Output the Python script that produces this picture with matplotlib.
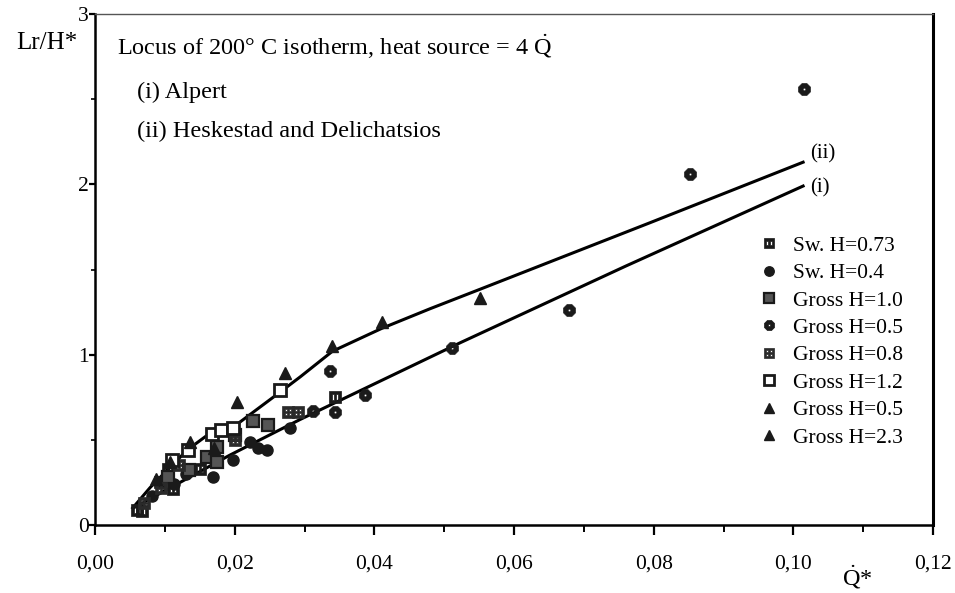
import numpy as np
import matplotlib
matplotlib.use("Agg")
import matplotlib.pyplot as plt
from matplotlib.path import Path
from matplotlib.ticker import MultipleLocator, FuncFormatter

plt.rcParams["font.family"] = ["Liberation Serif", "DejaVu Serif"]
plt.rcParams["mathtext.fontset"] = "custom"
plt.rcParams["mathtext.rm"] = "Liberation Serif"
plt.rcParams["mathtext.it"] = "Liberation Serif:italic"

# ---- correlation curves -------------------------------------------------
alpert_q = [0.0055, 0.0193, 0.0294, 0.0523, 0.0760, 0.1014]
alpert_l = [0.10, 0.41, 0.62, 1.07, 1.52, 1.99]

hd_q = [0.0054, 0.0079, 0.0103, 0.0132, 0.0165, 0.0198, 0.0265, 0.0294,
        0.0340, 0.0411, 0.0480, 0.0552, 0.0795, 0.1014]
hd_l = [0.10, 0.22, 0.32, 0.44, 0.54, 0.575, 0.78, 0.87,
        1.02, 1.155, 1.27, 1.385, 1.775, 2.13]

# ---- measurements -------------------------------------------------------
sw073_q = [0.0060, 0.0068, 0.0093, 0.0105, 0.0112, 0.0150, 0.0344]
sw073_l = [0.09, 0.08, 0.25, 0.33, 0.21, 0.33, 0.75]

sw04_q = [0.0082, 0.0113, 0.0130, 0.0169, 0.0198, 0.0222, 0.0234, 0.0246, 0.0279]
sw04_l = [0.17, 0.24, 0.30, 0.28, 0.38, 0.49, 0.45, 0.44, 0.57]

g10_q = [0.0105, 0.0135, 0.0160, 0.0175, 0.0175, 0.0200, 0.0226, 0.0248]
g10_l = [0.28, 0.32, 0.40, 0.37, 0.46, 0.53, 0.61, 0.59]

g05d_q = [0.0312, 0.0337, 0.0344, 0.0387, 0.0511, 0.0679, 0.0852, 0.1015]
g05d_l = [0.672, 0.905, 0.665, 0.765, 1.04, 1.265, 2.06, 2.56]

g08_q = [0.0070, 0.0095, 0.0120, 0.0200, 0.0276, 0.0290]
g08_l = [0.13, 0.22, 0.35, 0.50, 0.665, 0.665]

g12_q = [0.0110, 0.0133, 0.0168, 0.0180, 0.0198, 0.0265]
g12_l = [0.38, 0.44, 0.535, 0.56, 0.57, 0.79]

g05t_q = [0.0088, 0.0107, 0.0136, 0.0170]
g05t_l = [0.27, 0.37, 0.49, 0.45]

g23_q = [0.0203, 0.0272, 0.0340, 0.0411, 0.0552]
g23_l = [0.72, 0.89, 1.05, 1.19, 1.335]

labels = ["Sw. H=0.73", "Sw. H=0.4", "Gross H=1.0", "Gross H=0.5",
          "Gross H=0.8", "Gross H=1.2", "Gross H=0.5", "Gross H=2.3"]


# ---- marker shapes ------------------------------------------------------
def rect(x0, y0, x1, y1, cw=False):
    pts = [(x0, y0), (x1, y0), (x1, y1), (x0, y1)]
    if cw:
        pts = pts[::-1]
    return pts + [pts[0]]


def poly(n, r, cw=False):
    a = np.linspace(0, 2 * np.pi, n, endpoint=False) + np.pi / n
    pts = [(r * np.cos(t), r * np.sin(t)) for t in a]
    if cw:
        pts = pts[::-1]
    return pts + [pts[0]]


def compound(rings):
    verts, codes = [], []
    for ring in rings:
        verts += ring
        codes += [Path.MOVETO] + [Path.LINETO] * (len(ring) - 2) + [Path.CLOSEPOLY]
    return Path(verts, codes)


m_sw073 = compound([rect(-1, -1, 1, 1),
                    rect(-0.5, -0.45, -0.15, 0.45, cw=True),
                    rect(0.15, -0.45, 0.5, 0.45, cw=True)])
m_g05d = compound([poly(8, 1.0), poly(8, 0.22, cw=True)])
m_g08 = compound([rect(-1, -1, 1, 1),
                  rect(-0.55, -0.55, -0.12, -0.12, cw=True),
                  rect(0.12, -0.55, 0.55, -0.12, cw=True),
                  rect(-0.55, 0.12, -0.12, 0.55, cw=True),
                  rect(0.12, 0.12, 0.55, 0.55, cw=True)])

fig = plt.figure(figsize=(9.55, 5.93), dpi=100)
ax = fig.add_axes([95 / 955, 68 / 593, 838 / 955, 511 / 593])

ax.plot(alpert_q, alpert_l, color="black", lw=2.2, zorder=2)
ax.plot(hd_q, hd_l, color="black", lw=2.2, zorder=2)

series = [
    (sw073_q, sw073_l, dict(marker=m_sw073, ms=8.5, mfc="#1a1a1a", mec="#1a1a1a", mew=0.5)),
    (sw04_q, sw04_l, dict(marker="o", ms=8, mfc="#1a1a1a", mec="#1a1a1a")),
    (g10_q, g10_l, dict(marker="s", ms=8.5, mfc="#555555", mec="#1a1a1a", mew=1.6)),
    (g05d_q, g05d_l, dict(marker=m_g05d, ms=8.5, mfc="#1a1a1a", mec="#1a1a1a", mew=0.5)),
    (g08_q, g08_l, dict(marker=m_g08, ms=8.5, mfc="#2a2a2a", mec="#2a2a2a", mew=0.5)),
    (g12_q, g12_l, dict(marker="s", ms=8.5, mfc="white", mec="#1a1a1a", mew=2.0)),
    (g05t_q, g05t_l, dict(marker="^", ms=9, mfc="#1a1a1a", mec="#1a1a1a")),
    (g23_q, g23_l, dict(marker="^", ms=9, mfc="#1a1a1a", mec="#1a1a1a")),
]
handles = []
for (q, l, st), lab in zip(series, labels):
    h, = ax.plot(q, l, ls="none", label=lab, zorder=3, **st)
    handles.append(h)

ax.set_xlim(0, 0.12)
ax.set_ylim(0, 3)

ax.xaxis.set_major_locator(MultipleLocator(0.02))
ax.xaxis.set_minor_locator(MultipleLocator(0.01))
ax.yaxis.set_major_locator(MultipleLocator(1))
ax.yaxis.set_minor_locator(MultipleLocator(0.5))
ax.xaxis.set_major_formatter(FuncFormatter(lambda v, p: f"{v:.2f}".replace(".", ",")))
ax.yaxis.set_major_formatter(FuncFormatter(lambda v, p: f"{v:.0f}"))

ax.tick_params(axis="x", which="major", direction="out", length=7, width=1.6,
               pad=14, labelsize=15.5)
ax.tick_params(axis="x", which="minor", direction="out", length=5, width=1.4)
ax.tick_params(axis="y", which="major", direction="out", length=4, width=1.6,
               pad=0.5, labelsize=15.5)
ax.tick_params(axis="y", which="minor", direction="out", length=3, width=1.2)

for side, lw, col in [("left", 1.8, "black"), ("bottom", 1.8, "black"),
                      ("right", 2.2, "black"), ("top", 1.0, "#555555")]:
    ax.spines[side].set_linewidth(lw)
    ax.spines[side].set_color(col)

ax.text(0.026, 0.935, r"Locus of 200° C isotherm, heat source = 4 $\dot{\mathrm{Q}}$",
        transform=ax.transAxes, fontsize=17.5, va="center", ha="left")
ax.text(0.050, 0.847, "(i) Alpert", transform=ax.transAxes, fontsize=17.5,
        va="center", ha="left")
ax.text(0.050, 0.771, "(ii) Heskestad and Delichatsios", transform=ax.transAxes,
        fontsize=17.5, va="center", ha="left")

ax.text(hd_q[-1] + 0.0010, 2.18, "(ii)", fontsize=15, va="center", ha="left")
ax.text(alpert_q[-1] + 0.0010, 1.98, "(i)", fontsize=15, va="center", ha="left")

fig.text(47 / 955, 1 - 43 / 593, "Lr/H*", fontsize=18, ha="center", va="center")
fig.text(857 / 955, 1 - 577 / 593, r"$\dot{\mathrm{Q}}$*", fontsize=17.5, ha="center",
         va="center")

leg = ax.legend(handles=handles, loc="upper left", bbox_to_anchor=(0.791, 0.566),
                frameon=False, fontsize=15.5, handlelength=1.0, handletextpad=0.65,
                labelspacing=0.34, borderpad=0, markerscale=0.85, borderaxespad=0)

fig.savefig("out.png", dpi=100)
